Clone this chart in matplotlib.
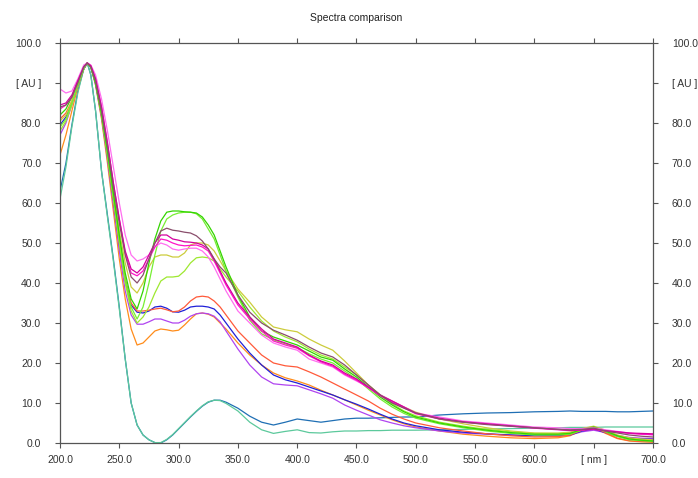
import matplotlib
matplotlib.use("Agg")
import matplotlib.pyplot as plt

# wavelength grid [nm]
wl = [200, 205, 210, 215, 220, 223, 226, 230, 235, 240, 245, 250, 255, 260, 265,
      270, 275, 280, 285, 290, 295, 300, 305, 310, 315, 320, 325, 330, 335, 340,
      350, 360, 370, 380, 390, 400, 410, 420, 430, 440, 450, 460, 470, 480, 490,
      500, 520, 540, 560, 580, 600, 620, 630, 640, 650, 660, 670, 680, 690, 700]

pink = [88.5, 87.5, 88, 91, 94.5, 95, 94.5, 92, 86, 78, 69, 60, 52, 47, 45.5,
        46, 47, 49, 50, 49.5, 48.5, 48.2, 48.5, 48.7, 48.7, 48, 46.5, 44, 41, 38,
        33, 30, 27, 25, 24, 23.2, 21, 20, 19, 17, 15.5, 14, 12, 10.5, 9,
        7.5, 6.5, 5.5, 5, 4.5, 4, 3.8, 3.6, 3.6, 3.8, 3.3, 2.9, 2.5, 2.2, 2]
magenta = [84.5, 85, 87, 90.5, 94, 95, 94.3, 91, 84, 75, 65, 56, 48, 43.5, 42.5,
           44, 47, 50, 52, 52, 51, 50.7, 50.3, 50.2, 50, 49.5, 48.5, 46, 43, 40,
           35, 31.5, 28.5, 26, 25, 24, 22, 20.5, 19.5, 17.5, 16, 14, 12, 10.5, 9,
           7.5, 6.2, 5.3, 4.8, 4.3, 3.8, 3.4, 3.2, 3.3, 3.5, 3.1, 2.8, 2.5, 2.4, 2.3]
hotpink = [83.5, 84.5, 86.5, 90.5, 94, 95, 94.3, 91, 84, 75, 65, 56, 47.5, 42.5, 41.8,
           43, 46, 49, 51, 50.7, 50, 49.5, 49.3, 49.4, 49.5, 49, 48, 45.5, 42.5, 39.5,
           34.5, 31, 28, 25.5, 24.5, 23.7, 21.8, 20.3, 19.2, 17.2, 15.7, 13.8, 11.8, 10.2, 8.8,
           7.3, 6, 5.2, 4.7, 4.2, 3.7, 3.3, 3.1, 3.2, 3.4, 3.0, 2.7, 2.4, 2.2, 2.1]
brown = [84, 84.5, 86.5, 90, 94, 95, 94, 90.5, 83, 74, 64, 55, 47, 41.5, 40,
         42, 46, 50, 53, 53.7, 53.2, 53, 52.7, 52.5, 51.8, 50.5, 48.5, 46, 44, 42.5,
         37, 32.7, 30, 28.2, 27, 25.7, 24, 22.5, 21.5, 19.5, 17, 14.5, 12, 10, 8.7,
         7.5, 6, 5.2, 4.6, 4.2, 3.8, 3.4, 3.3, 3.4, 3.7, 3.0, 2.5, 2, 1.7, 1.5]
green1 = [82, 83.5, 86.5, 90.5, 94, 95, 94, 90, 82.5, 73, 62.5, 52, 42.5, 36, 33.5,
          38, 45, 51, 55.5, 57.7, 58, 58, 57.8, 57.7, 57.5, 56.5, 54.5, 52, 48, 44,
          37, 31.5, 28, 26.5, 25.5, 24.5, 23, 21.5, 20.7, 18.5, 16.5, 14, 11.5, 9.5, 7.8,
          6.5, 5, 4, 3.2, 2.6, 2.2, 2.2, 2.4, 3.4, 4.0, 3.0, 1.8, 1, 0.7, 0.5]
green2 = [79, 81, 85, 89.5, 93.5, 95, 94, 90, 82, 72, 61.5, 51, 41, 34, 31,
          34, 40, 47, 53, 56, 57, 57.5, 57.7, 57.7, 57.3, 56, 53.5, 51, 47, 43,
          36.5, 30.7, 27.3, 25.8, 24.8, 23.8, 22.3, 21, 20, 18, 16, 13.5, 11, 9, 7.4,
          6.2, 4.8, 3.8, 3, 2.4, 2, 2.0, 2.2, 3.2, 3.8, 2.8, 1.6, 0.8, 0.6, 0.4]
olive = [80.5, 82, 85.5, 90, 94, 95, 94, 90.5, 83, 73.5, 63, 53, 45, 39, 37.5,
         40, 44, 46.5, 47, 47, 46.5, 46.5, 47.5, 49.5, 50, 50, 49.5, 48, 45.5, 43,
         38.5, 35.2, 31.5, 29, 28.3, 27.8, 26, 24.5, 23.2, 20.5, 17.5, 14.5, 12, 10.5, 9,
         7.7, 6, 4.8, 3.8, 3, 2.5, 2.5, 2.7, 3.6, 4.2, 3.2, 2.0, 1.3, 1, 0.8]
ygreen = [78, 80.5, 84.5, 89.5, 93.5, 95, 94, 90, 82, 72, 61, 50, 40, 33, 30,
          31.5, 34, 37.5, 40.5, 41.5, 41.5, 41.7, 43, 45, 46.3, 46.5, 46.3, 45.5, 43.5, 41.5,
          38, 34, 30.5, 28, 26.5, 25.3, 23.5, 22, 21, 19, 17, 14.5, 12, 9.8, 8,
          6.8, 5.2, 4.2, 3.4, 2.8, 2.4, 2.3, 2.5, 3.5, 4.1, 3.0, 1.8, 1.1, 0.8, 0.6]
salmon = [81, 82.5, 85.5, 90, 94, 95, 94, 90, 82, 72, 61, 50, 41, 35, 33,
          33, 33.2, 33.5, 33.7, 33.3, 32.8, 33, 34, 35.5, 36.5, 36.7, 36.5, 35.5, 34, 32,
          28, 25, 22, 20, 19.3, 19, 17.8, 16.5, 15, 13.5, 12, 10.5, 8.7, 7.2, 6,
          5, 3.8, 3, 2.3, 1.8, 1.5, 1.6, 2.0, 3.2, 3.8, 2.6, 1.2, 0.6, 0.4, 0.3]
blue = [79.5, 81.5, 85, 89.5, 93.5, 95, 94, 90, 82, 72, 61, 50, 40.5, 34.5, 32.7,
        32.5, 33, 34, 34.2, 33.7, 32.8, 32.7, 33.2, 34, 34.2, 34.2, 34, 33.5, 32, 30,
        26, 22.5, 19.5, 17, 15.8, 15, 14, 13, 12, 10.8, 9.7, 8.5, 7.2, 6, 5,
        4.3, 3.3, 2.7, 2.3, 2, 1.8, 1.8, 2.0, 3.0, 3.5, 2.6, 1.7, 1.2, 1, 0.9]
orange = [72, 77, 83, 89, 93.5, 95, 94, 89.5, 81, 70, 58, 46, 36, 28.5, 24.5,
          25, 26.5, 28, 28.5, 28.3, 28, 28.2, 29.5, 31, 32.3, 32.5, 32.2, 31.5, 30, 28.5,
          25, 22, 19.5, 17.5, 16.3, 15.5, 14.5, 13.2, 12, 10.8, 9.5, 8.2, 7, 5.8, 4.8,
          4, 3, 2.2, 1.7, 1.3, 1.1, 1.3, 1.8, 3.2, 3.8, 2.4, 1.1, 0.5, 0.3, 0.2]
purple = [77, 80, 84.5, 89.5, 93.5, 95, 94, 89.5, 81.5, 71, 59.5, 48, 38, 32, 29.7,
          29.7, 30.3, 31, 31, 30.5, 30, 30, 30.7, 31.7, 32.3, 32.5, 32.3, 31.7, 30.3, 28,
          23.5, 19.5, 16.5, 14.8, 14.5, 14.3, 13.3, 12.3, 11.2, 9.5, 8.2, 7, 5.8, 5, 4.3,
          3.8, 3, 2.5, 2.2, 2, 1.9, 1.9, 2.0, 2.8, 3.2, 2.6, 1.9, 1.4, 1.2, 1.1]
teal = [63, 70, 79.5, 88, 93.5, 95, 92, 83, 68, 57, 46, 34, 21, 10, 4.5,
        2, 0.8, 0.1, 0, 0.8, 2, 3.5, 5, 6.5, 7.9, 9.2, 10.2, 10.7, 10.7, 10.2,
        8.7, 6.7, 5.2, 4.5, 5.2, 6, 5.6, 5.2, 5.6, 6, 6.2, 6.2, 6.3, 6.4, 6.5,
        6.5, 7, 7.3, 7.5, 7.6, 7.8, 7.9, 8, 7.9, 7.9, 7.9, 7.8, 7.8, 7.9, 8]
mint = [61, 69, 79, 87.5, 93.5, 95, 92, 83, 68, 56.5, 45.5, 33.5, 21, 10, 4.5,
        2, 0.8, 0.1, 0.1, 0.9, 2.1, 3.6, 5.1, 6.6, 8, 9.3, 10.3, 10.7, 10.6, 9.9,
        8, 5.2, 3.3, 2.4, 2.9, 3.3, 2.6, 2.5, 2.8, 3, 3, 3.1, 3.1, 3.2, 3.2,
        3.2, 3.3, 3.4, 3.5, 3.6, 3.7, 3.8, 3.9, 3.9, 3.9, 4, 4, 4, 4, 4]

series = [(teal, "#1f6fb4"), (mint, "#5cc99c"),
          (orange, "#ff8c1a"), (purple, "#b044f0"), (blue, "#2020d8"), (salmon, "#ff5a3a"),
          (ygreen, "#9ee830"), (olive, "#cccc3c"), (green2, "#77ee33"), (green1, "#33d400"),
          (pink, "#ff6ef0"), (hotpink, "#ff14c8"), (magenta, "#d4009e"), (brown, "#8a4e6c")]

yticks = [0, 10, 20, 30, 40, 50, 60, 70, 80, 90, 100]
ylabels = ["0.0", "10.0", "20.0", "30.0", "40.0", "50.0", "60.0", "70.0", "80.0", "[ AU ]", "100.0"]
xticks = [200, 250, 300, 350, 400, 450, 500, 550, 600, 650, 700]
xlabels = ["200.0", "250.0", "300.0", "350.0", "400.0", "450.0", "500.0", "550.0", "600.0", "[ nm ]", "700.0"]

plt.rcParams['font.family'] = ['Liberation Sans', 'DejaVu Sans']
fig = plt.figure(figsize=(6.98, 4.78), dpi=100)
ax = fig.add_axes([60 / 698, 1 - 443 / 478, 593 / 698, 400 / 478])

for vals, col in series:
    ax.plot(wl, vals, color=col, lw=0.9)

ax.set_xlim(200, 700)
ax.set_ylim(0, 100)
ax.set_xticks(xticks)
ax.set_xticklabels(xlabels)
ax.set_yticks(yticks)
ax.set_yticklabels(ylabels)
ax.tick_params(axis='both', which='both', direction='out', length=3.5, width=0.8,
               color='#555555', labelsize=7.5, labelcolor='#333333',
               top=True, right=True, labelright=True)
ax.tick_params(axis='y', pad=10)
ax.tick_params(axis='x', pad=5)
for sp in ax.spines.values():
    sp.set_color('#555555')
    sp.set_linewidth(0.9)

fig.text(356.5 / 698, 1 - 18 / 478, "Spectra comparison", ha='center', va='center',
         fontsize=7.5, color='#222222')

fig.savefig("out.png", dpi=100)
